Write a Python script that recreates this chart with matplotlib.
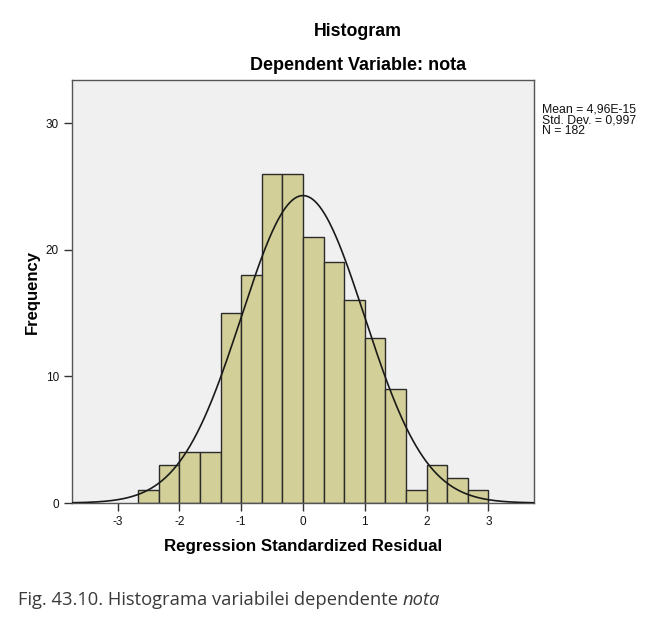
import numpy as np
import matplotlib
matplotlib.use("Agg")
import matplotlib.pyplot as plt

plt.rcParams["axes.unicode_minus"] = False

# Data
bin_start = -8 / 3
bin_width = 1 / 3
counts = [1, 3, 4, 4, 15, 18, 26, 26, 21, 19, 16, 13, 9, 1, 3, 2, 1]
mean_val = 4.96e-15
std_val = 0.997
n_val = 182
x_ticks = [-3, -2, -1, 0, 1, 2, 3]
y_ticks = [0, 10, 20, 30]

edges = bin_start + bin_width * np.arange(len(counts) + 1)

fig = plt.figure(figsize=(6.59, 6.21), dpi=100)
ax = fig.add_axes([72 / 659, 1 - 503 / 621, (534 - 72) / 659, (503 - 80) / 621])
ax.set_facecolor("#F0F0F0")

ax.bar(edges[:-1], counts, width=bin_width, align="edge",
       color="#D3CF98", edgecolor="#2b2b2b", linewidth=1.0, zorder=2)

xs = np.linspace(-3.74, 3.74, 400)
pdf = n_val * bin_width / (std_val * np.sqrt(2 * np.pi)) * np.exp(-0.5 * ((xs - mean_val) / std_val) ** 2)
ax.plot(xs, pdf, color="#1a1a1a", linewidth=1.2, zorder=3)

ax.set_xlim(-3.74, 3.74)
ax.set_ylim(0, 33.4)
ax.set_xticks(x_ticks)
ax.set_yticks(y_ticks)
ax.tick_params(axis="both", direction="out", length=6, width=1, color="#333333",
               labelsize=8.5, labelcolor="#111111")
for s in ax.spines.values():
    s.set_color("#555555")
    s.set_linewidth(1.0)

ff = "Liberation Sans"
for lbl in ax.get_xticklabels() + ax.get_yticklabels():
    lbl.set_fontfamily(ff)

ax.set_xlabel("Regression Standardized Residual", fontfamily=ff, fontweight="bold",
              fontsize=12.2, labelpad=8)
ax.set_ylabel("Frequency", fontfamily=ff, fontweight="bold", fontsize=12, labelpad=4)

fig.text(358 / 659, 1 - 32 / 621, "Histogram", ha="center", va="center",
         fontfamily=ff, fontweight="bold", fontsize=12.8)
fig.text(358 / 659, 1 - 66 / 621, "Dependent Variable: nota", ha="center", va="center",
         fontfamily=ff, fontweight="bold", fontsize=13)

fig.text(542 / 659, 1 - 103 / 621,
         "Mean = 4,96E-15\nStd. Dev. = 0,997\nN = 182",
         ha="left", va="top", fontfamily=ff, fontsize=8.8, linespacing=0.9, color="#111111")

fig.text(18 / 659, 1 - 600 / 621, "Fig. 43.10. Histograma variabilei dependente ",
         ha="left", va="center", fontfamily="Open Sans", fontsize=13.2, color="#3a3a3a")
t = fig.texts[-1]
fig.canvas.draw()
bb = t.get_window_extent()
fig.text(bb.x1 / 659, 1 - 600 / 621, "nota", ha="left", va="center",
         fontfamily="Open Sans", fontstyle="italic", fontsize=13.2, color="#3a3a3a")

fig.savefig("out.png", dpi=100, facecolor="white")
